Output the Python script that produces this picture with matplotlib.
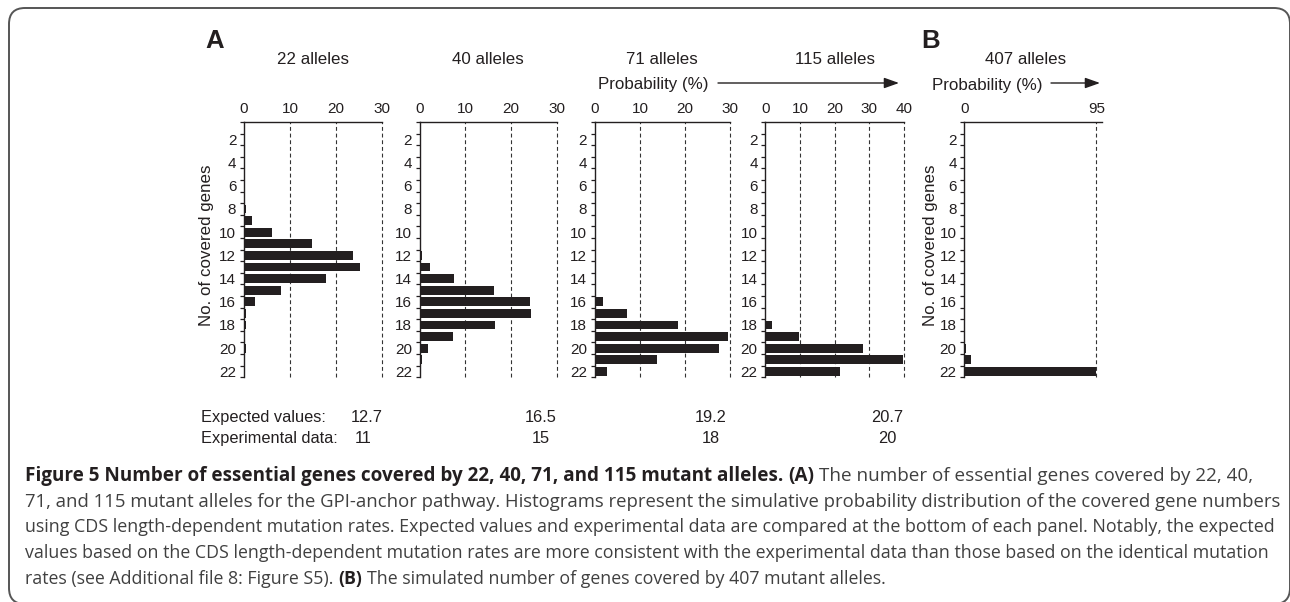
import matplotlib
matplotlib.use("Agg")
import matplotlib.pyplot as plt
import numpy as np
from matplotlib.patches import FancyBboxPatch
from matplotlib.transforms import IdentityTransform

# canvas in pixels (dpi 100)
W, H = 1290, 602

# ---- data (probability %, per number of covered genes) ----
GENES = list(range(1, 23))
PROB_22 = [0, 0, 0, 0.15, 0.15, 0.15, 0.1, 0.5, 1.7, 6.0, 14.8, 23.7,
           25.2, 17.8, 8.0, 2.4, 0.5, 0.5, 0.3, 0.4, 0.1, 0]
PROB_40 = [0, 0, 0, 0, 0, 0, 0, 0.3, 0.2, 0.3, 0.2, 0.5,
           2.2, 7.5, 16.2, 24.0, 24.4, 16.4, 7.2, 1.8, 0.4, 0.3]
PROB_71 = [0, 0, 0, 0, 0, 0, 0, 0, 0, 0, 0, 0.2,
           0.2, 0.2, 0.15, 1.8, 7.1, 18.4, 29.4, 27.5, 13.8, 2.7]
PROB_115 = [0, 0, 0, 0, 0, 0, 0, 0, 0, 0, 0, 0,
            0, 0, 0.15, 0.15, 0.15, 1.9, 9.7, 28.2, 39.7, 21.5]
PROB_407 = [0] * 19 + [1.0, 4.5, 94.5]

PANEL_TITLES = ["22 alleles", "40 alleles", "71 alleles", "115 alleles", "407 alleles"]
X_TICKS = [[0, 10, 20, 30], [0, 10, 20, 30], [0, 10, 20, 30],
           [0, 10, 20, 30, 40], [0, 95]]
X_MAX = [30, 30, 30, 40, 99]
Y_TICKS = list(range(2, 23, 2))

EXPECTED = ["12.7", "16.5", "19.2", "20.7"]
EXPERIMENTAL = ["11", "15", "18", "20"]

CAPTION = [
    [("Figure 5 Number of essential genes covered by 22, 40, 71, and 115 mutant alleles.", True),
     ("(A)", True),
     ("The number of essential genes covered by 22, 40,", False)],
    [("71, and 115 mutant alleles for the GPI-anchor pathway. Histograms represent the "
      "simulative probability distribution of the covered gene numbers", False)],
    [("using CDS length-dependent mutation rates. Expected values and experimental data are "
      "compared at the bottom of each panel. Notably, the expected", False)],
    [("values based on the CDS length-dependent mutation rates are more consistent with the "
      "experimental data than those based on the identical mutation", False)],
    [("rates (see Additional file 8: Figure S5).", False), ("(B)", True),
     ("The simulated number of genes covered by 407 mutant alleles.", False)],
]

# ---- layout (pixel positions) ----
PANEL_X = [(244, 382), (419.7, 557), (594.7, 730.3), (765.3, 904), (964.3, 1102)]
TITLE_X = [313, 488, 662, 835, 1026]
AX_TOP, AX_BOT = 122, 377.2
VAL_X = [367, 541, 711, 887]
CAPTION_END = [1248, 1275, 1271, 1258, 881]   # right edge of each caption line
INK = "#231f20"
FONT = ["Liberation Sans", "DejaVu Sans"]

plt.rcParams["font.family"] = FONT
plt.rcParams["text.color"] = INK
plt.rcParams["xtick.color"] = INK
plt.rcParams["ytick.color"] = INK


def fx(x):
    return x / W


def fy(y):
    return 1 - y / H


def ftext(fig, x, y, s, **kw):
    return fig.text(fx(x), fy(y), s, **kw)


fig = plt.figure(figsize=(W / 100, H / 100), dpi=100)
fig.patch.set_facecolor("white")

series = [PROB_22, PROB_40, PROB_71, PROB_115, PROB_407]
for i, vals in enumerate(series):
    x0, x1 = PANEL_X[i]
    ax = fig.add_axes([fx(x0), fy(AX_BOT), (x1 - x0) / W, (AX_BOT - AX_TOP) / H])
    ax.barh(GENES, vals, height=0.75, color=INK, zorder=3)
    ax.set_xlim(0, X_MAX[i])
    ax.set_ylim(22.5, 0.5)

    ax.xaxis.tick_top()
    ax.set_xticks(X_TICKS[i])
    ax.tick_params(axis="x", length=0, pad=4, labelsize=11)
    for t in X_TICKS[i][1:]:
        ax.axvline(t, color="#333333", lw=0.8, ls=(0, (3.5, 2.5)),
                   zorder=1, clip_on=False)

    ax.set_yticks(Y_TICKS)
    ax.set_yticks(np.arange(0.5, 23, 1), minor=True)
    ax.tick_params(axis="y", which="major", length=0, pad=5.5, labelsize=11)
    ax.tick_params(axis="y", which="minor", length=3, width=0.9, direction="out")

    for side in ["right", "bottom"]:
        ax.spines[side].set_visible(False)
    for side in ["top", "left"]:
        ax.spines[side].set_linewidth(1.0)
        ax.spines[side].set_color(INK)
    ax.set_facecolor("none")

    ftext(fig, TITLE_X[i], 64.3, PANEL_TITLES[i], ha="center", va="baseline",
          fontsize=12.2)

# panel letters
ftext(fig, 205, 48.3, "A", fontsize=18.5, weight="bold", va="baseline")
ftext(fig, 921.5, 47.5, "B", fontsize=18.5, weight="bold", va="baseline")

# y labels
for x in [207, 931]:
    ftext(fig, x, 245, "No. of covered genes", rotation=90, ha="center",
          va="center", fontsize=12.2)

# probability labels with arrows
for tx, ty, a0, a1 in [(598, 89, 718, 899), (932, 90, 1051, 1100)]:
    ftext(fig, tx, ty, "Probability (%)", fontsize=12.2, va="baseline")
    fig.add_artist(matplotlib.patches.FancyArrowPatch(
        (fx(a0), fy(83)), (fx(a1), fy(83)), transform=fig.transFigure,
        arrowstyle="-|>,head_length=0.9,head_width=0.32", mutation_scale=10,
        color=INK, lw=1.0, shrinkA=0, shrinkB=0))

# expected vs experimental rows
ftext(fig, 200.7, 421.7, "Expected values:", fontsize=11.8, va="baseline")
ftext(fig, 200.7, 443.3, "Experimental data:", fontsize=11.8, va="baseline")
for x, e, d in zip(VAL_X, EXPECTED, EXPERIMENTAL):
    ftext(fig, x, 421.7, e, fontsize=11.8, va="baseline", ha="center")
    ftext(fig, x - (4 if d == "11" else 0), 443.3, d, fontsize=11.8,
          va="baseline", ha="center")

# caption, with bold and normal pieces chained on each line
cap_font = ["Open Sans", "DejaVu Sans"]
renderer = fig.canvas.get_renderer()


def space_width(size):
    a = fig.text(0, 0, "a a", family=cap_font, fontsize=size)
    b = fig.text(0, 0, "aa", family=cap_font, fontsize=size)
    w = a.get_window_extent(renderer).width - b.get_window_extent(renderer).width
    a.remove()
    b.remove()
    return w


def caption_line(pieces, y, size):
    x = 25
    sw = space_width(size)
    drawn = []
    for text, bold in pieces:
        t = ftext(fig, x, y, text, family=cap_font, fontsize=size,
                  weight="bold" if bold else "normal",
                  color=INK if bold else "#404040", va="baseline")
        x = t.get_window_extent(renderer).x1 + sw
        drawn.append(t)
    return drawn, x - sw


baseline = 481
for pieces, end in zip(CAPTION, CAPTION_END):
    # fit each line to the width it has in the original figure
    drawn, right = caption_line(pieces, baseline, 13.0)
    for t in drawn:
        t.remove()
    size = 13.0 * (end - 25) / (right - 25)
    caption_line(pieces, baseline, size)
    baseline += 25.75

# rounded frame
fig.add_artist(FancyBboxPatch((9, -2), 1281, 596,
                              boxstyle="round,pad=0,rounding_size=16",
                              transform=IdentityTransform(), fill=False,
                              ec="#555555", lw=1.4))

fig.savefig("out.png", dpi=100)
